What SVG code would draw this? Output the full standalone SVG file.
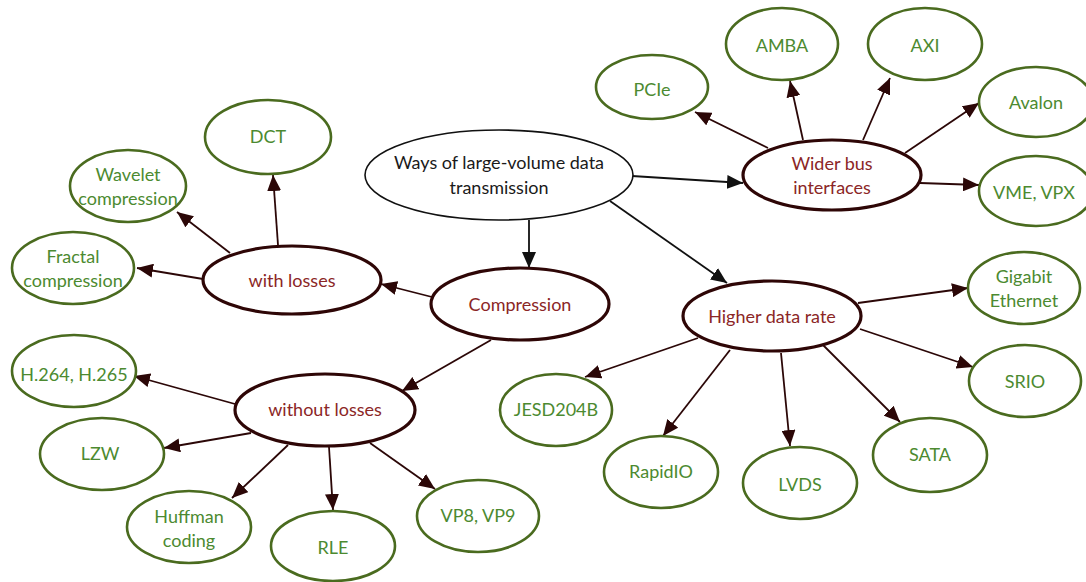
<svg xmlns="http://www.w3.org/2000/svg" width="1086" height="582" viewBox="0 0 1086 582">
<style>
.leaf{fill:#fff;stroke:#4a6b1f;stroke-width:2.6}
.mid{fill:#fff;stroke:#2e0606;stroke-width:3.2}
.root{fill:#fff;stroke:#111;stroke-width:1.6}
text{font-family:Lato,"Open Sans","Liberation Sans",sans-serif;font-size:18px;text-anchor:middle}
.lt{fill:#4c8a30}
.mt{fill:#8b2626}
.rt{fill:#1a1a1a}
.c{stroke:#2b0707;stroke-width:1.8;fill:none;marker-end:url(#ah)}
.cb{stroke:#111;stroke-width:1.8;fill:none;marker-end:url(#ahb)}
</style>
<defs>
<marker id="ah" markerUnits="userSpaceOnUse" markerWidth="17" markerHeight="14" refX="16" refY="7" orient="auto"><path d="M0,0 L16,7 L0,14 z" fill="#2b0707"/></marker>
<marker id="ahb" markerUnits="userSpaceOnUse" markerWidth="17" markerHeight="14" refX="16" refY="7" orient="auto"><path d="M0,0 L16,7 L0,14 z" fill="#111"/></marker>
</defs>
<rect width="1086" height="582" fill="#fff"/>
<g id="connectors">
<line class="cb" x1="632" y1="176" x2="743" y2="183"/>
<line class="cb" x1="529" y1="220" x2="529" y2="268"/>
<line class="cb" x1="610" y1="201" x2="727" y2="283"/>
<line class="c" x1="768" y1="148" x2="695" y2="112"/>
<line class="c" x1="803" y1="140" x2="790" y2="81"/>
<line class="c" x1="863" y1="140" x2="890" y2="78"/>
<line class="c" x1="905" y1="153" x2="979" y2="103"/>
<line class="c" x1="920" y1="183" x2="979" y2="185"/>
<line class="c" x1="432" y1="297" x2="381" y2="284"/>
<line class="c" x1="491" y1="340" x2="402" y2="391"/>
<line class="c" x1="278" y1="245" x2="273" y2="175"/>
<line class="c" x1="230" y1="253" x2="177" y2="212"/>
<line class="c" x1="203" y1="279" x2="137" y2="268"/>
<line class="c" x1="235" y1="404" x2="134" y2="376"/>
<line class="c" x1="251" y1="433" x2="164" y2="448"/>
<line class="c" x1="288" y1="445" x2="232" y2="498"/>
<line class="c" x1="329" y1="447" x2="333" y2="510"/>
<line class="c" x1="370" y1="443" x2="435" y2="489"/>
<line class="c" x1="698" y1="338" x2="585" y2="377"/>
<line class="c" x1="730" y1="350" x2="663" y2="436"/>
<line class="c" x1="781" y1="353" x2="790" y2="446"/>
<line class="c" x1="823" y1="345" x2="900" y2="422"/>
<line class="c" x1="860" y1="329" x2="973" y2="367"/>
<line class="c" x1="858" y1="303" x2="968" y2="288"/>
</g>
<g id="root"><ellipse class="root" cx="499" cy="175" rx="134" ry="45"/><text class="rt" x="499" y="169">Ways of large-volume data</text><text class="rt" x="499" y="194">transmission</text></g>
<g id="wider"><ellipse class="mid" cx="832" cy="175" rx="89" ry="35"/><text class="mt" x="832" y="170">Wider bus</text><text class="mt" x="832" y="194">interfaces</text></g>
<g id="compression"><ellipse class="mid" cx="520" cy="304" rx="89" ry="36"/><text class="mt" x="520" y="311">Compression</text></g>
<g id="higher"><ellipse class="mid" cx="772" cy="316" rx="89" ry="35"/><text class="mt" x="772" y="323">Higher data rate</text></g>
<g id="withlosses"><ellipse class="mid" cx="292" cy="280" rx="89" ry="34"/><text class="mt" x="292" y="287">with losses</text></g>
<g id="withoutlosses"><ellipse class="mid" cx="325" cy="410" rx="90" ry="36"/><text class="mt" x="325" y="416">without losses</text></g>
<g id="pcie"><ellipse class="leaf" cx="652" cy="87" rx="56" ry="32"/><text class="lt" x="652" y="96">PCIe</text></g>
<g id="amba"><ellipse class="leaf" cx="782" cy="44" rx="56" ry="36"/><text class="lt" x="782" y="52">AMBA</text></g>
<g id="axi"><ellipse class="leaf" cx="925" cy="44" rx="57" ry="36"/><text class="lt" x="925" y="52">AXI</text></g>
<g id="avalon"><ellipse class="leaf" cx="1036" cy="102" rx="57" ry="35"/><text class="lt" x="1036" y="109">Avalon</text></g>
<g id="vme"><ellipse class="leaf" cx="1036" cy="191" rx="57" ry="35"/><text class="lt" x="1034" y="199">VME, VPX</text></g>
<g id="dct"><ellipse class="leaf" cx="268" cy="137" rx="63" ry="37"/><text class="lt" x="268" y="143">DCT</text></g>
<g id="wavelet"><ellipse class="leaf" cx="128" cy="186" rx="58" ry="36"/><text class="lt" x="128" y="181">Wavelet</text><text class="lt" x="128" y="205">compression</text></g>
<g id="fractal"><ellipse class="leaf" cx="73" cy="268" rx="61" ry="36"/><text class="lt" x="73" y="263">Fractal</text><text class="lt" x="73" y="287">compression</text></g>
<g id="h264"><ellipse class="leaf" cx="74" cy="371" rx="62" ry="36"/><text class="lt" x="74" y="381">H.264, H.265</text></g>
<g id="lzw"><ellipse class="leaf" cx="102" cy="454" rx="62" ry="36"/><text class="lt" x="100" y="460">LZW</text></g>
<g id="huffman"><ellipse class="leaf" cx="189" cy="527" rx="62" ry="36"/><text class="lt" x="189" y="523">Huffman</text><text class="lt" x="189" y="547">coding</text></g>
<g id="rle"><ellipse class="leaf" cx="333" cy="546" rx="62" ry="35"/><text class="lt" x="333" y="554">RLE</text></g>
<g id="vp8"><ellipse class="leaf" cx="478" cy="516" rx="61" ry="36"/><text class="lt" x="478" y="522">VP8, VP9</text></g>
<g id="jesd"><ellipse class="leaf" cx="556" cy="410" rx="56" ry="36"/><text class="lt" x="556" y="416">JESD204B</text></g>
<g id="rapidio"><ellipse class="leaf" cx="661" cy="472" rx="57" ry="36"/><text class="lt" x="661" y="478">RapidIO</text></g>
<g id="lvds"><ellipse class="leaf" cx="800" cy="483" rx="57" ry="36"/><text class="lt" x="800" y="491">LVDS</text></g>
<g id="sata"><ellipse class="leaf" cx="930" cy="455" rx="57" ry="37"/><text class="lt" x="930" y="461">SATA</text></g>
<g id="srio"><ellipse class="leaf" cx="1025" cy="381" rx="56" ry="36"/><text class="lt" x="1025" y="388">SRIO</text></g>
<g id="gigabit"><ellipse class="leaf" cx="1024" cy="288" rx="56" ry="36"/><text class="lt" x="1024" y="283">Gigabit</text><text class="lt" x="1024" y="307">Ethernet</text></g>
</svg>
